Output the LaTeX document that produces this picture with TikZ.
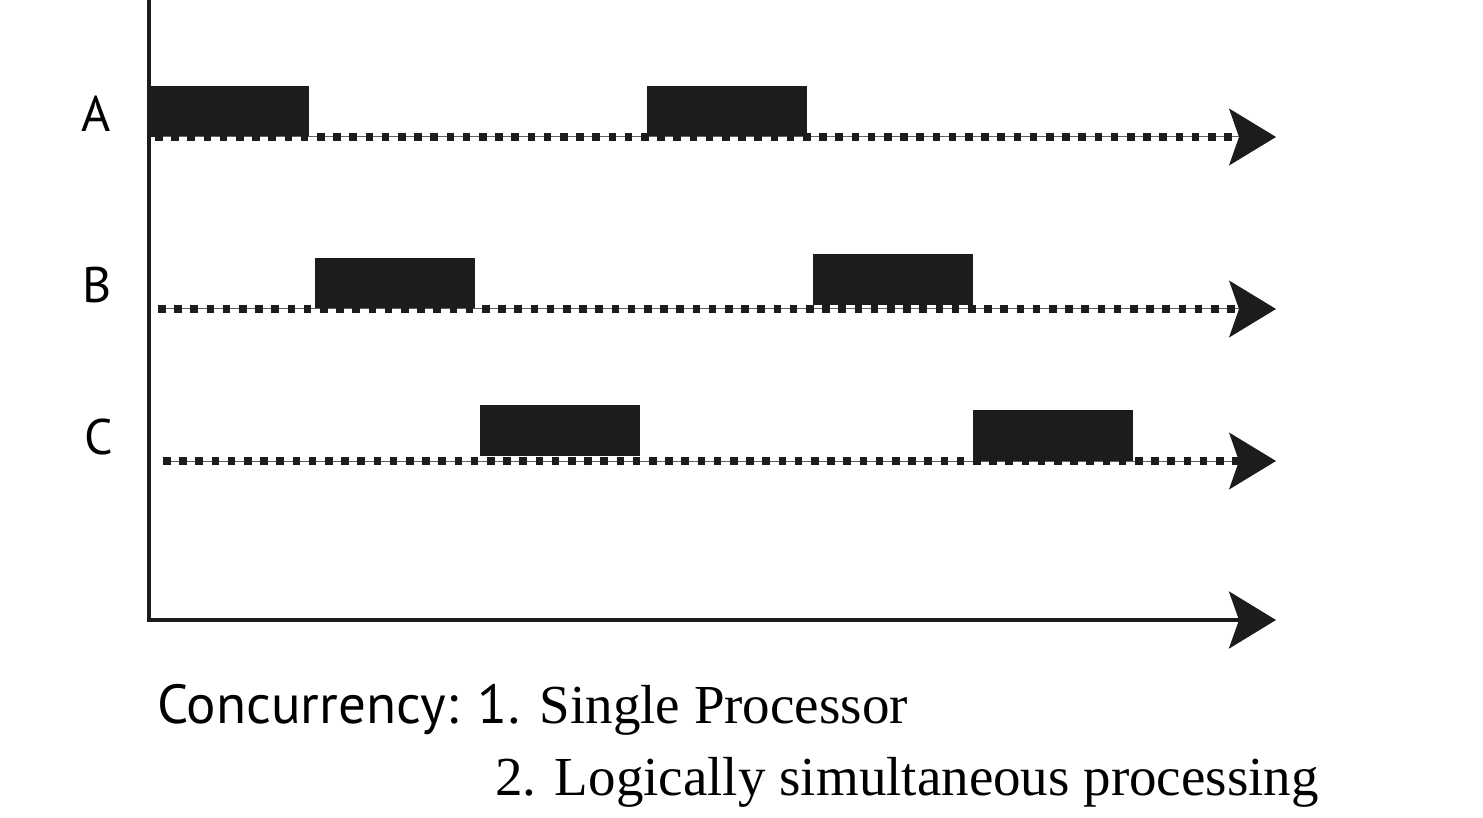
\documentclass[tikz,border=0pt]{standalone}
\usepackage{fontspec}
\usetikzlibrary{arrows.meta}
\newfontfamily\labfont{PT Sans}
\newfontfamily\serfont{Liberation Serif}
\definecolor{ink}{HTML}{1C1C1C}
\begin{document}
\begin{tikzpicture}[x=0.5pt,y=-0.5pt,
  tip/.style={-{Stealth[length=23.5pt,width=28.5pt,inset=5pt,color=ink]}},
  axis/.style={line width=2pt,ink,tip},
  track/.style={line width=0.5pt,ink!70,tip},
  dots/.style={line width=3.8pt,ink,dash pattern=on 3.8pt off 4.3pt},
  task/.style={fill=ink,draw=none,minimum width=80pt,minimum height=25.5pt,inner sep=0pt,anchor=south west},
  lab/.style={font=\labfont\fontsize{25}{30}\selectfont,inner sep=0pt}]
\useasboundingbox (0,0) rectangle (1483,818);
% axes
\coordinate (top) at (149,0);
\coordinate (org) at (149,620);
\coordinate (xend) at (1276,620);
\draw[line width=2pt,ink] (top) -- (149,622);
\draw[axis] (org) -- (xend);
% tracks
\coordinate (a0) at (155,137); \coordinate (a1) at (1276,137); \coordinate (ad) at (1232,137);
\coordinate (b0) at (158,309); \coordinate (b1) at (1276,309); \coordinate (bd) at (1240,309);
\coordinate (c0) at (163,461); \coordinate (c1) at (1276,461); \coordinate (cd) at (1240,461);
% boxes
\node[task] (A1) at (149,137) {};
\node[task] (A2) at (647,137) {};
\node[task] (B1) at (315,309) {};
\node[task] (B2) at (813,305) {};
\node[task] (C1) at (480,456) {};
\node[task] (C2) at (973,461) {};
\draw[track] (a0) -- (a1);
\draw[dots] (a0) -- (ad);
\draw[track] (b0) -- (b1);
\draw[dots] (b0) -- (bd);
\draw[track] (c0) -- (c1);
\draw[dots] (c0) -- (cd);
% labels
\node[lab,anchor=base] (LA) at (96,132) {A};
\node[lab,anchor=base] (LB) at (97,302) {B};
\node[lab,anchor=base] (LC) at (99,454) {C};
\node[inner sep=0pt,anchor=base west] (t1) at (157,723)
  {{\labfont\fontsize{27.5}{34}\selectfont Concurrency: 1}{\serfont\fontsize{27.5}{34}\selectfont . Single Processor}};
\node[inner sep=0pt,anchor=base west] (t2) at (495,795)
  {\serfont\fontsize{27.5}{34}\selectfont 2. Logically simultaneous processing};
\end{tikzpicture}
\end{document}
